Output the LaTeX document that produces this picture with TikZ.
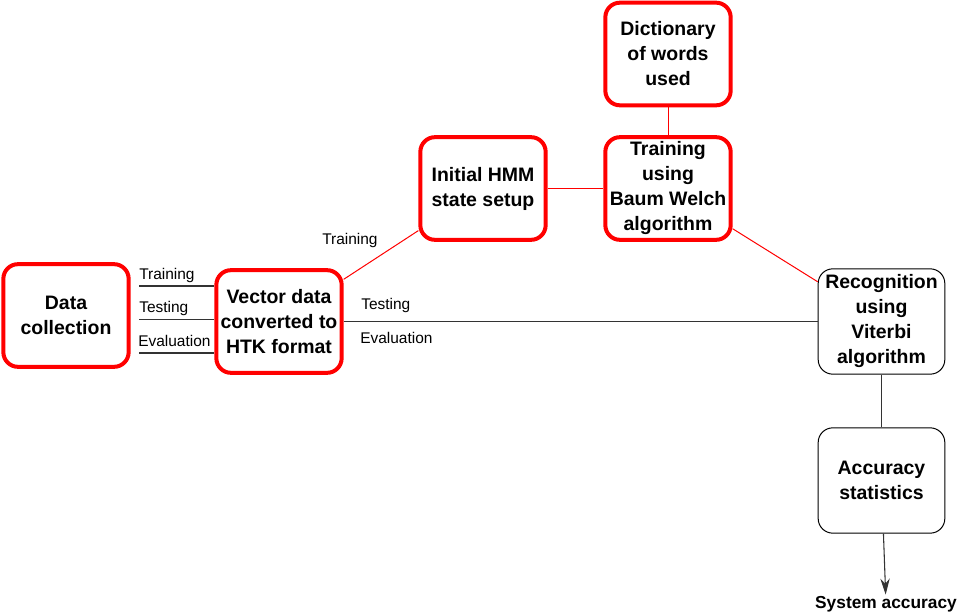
\documentclass[tikz,border=0pt]{standalone}
\usepackage{fontspec}
\setmainfont{Liberation Sans}
\usetikzlibrary{arrows.meta}
\usetikzlibrary{calc}

\tikzset{
  redbox/.style={draw=red, line width=3pt, rounded corners=11pt,
    minimum width=94pt, minimum height=77pt, inner sep=0pt, align=center,
    font=\bfseries\fontsize{14.6}{18.75}\selectfont},
  blackbox/.style={redbox, draw=black, line width=0.75pt,
    minimum width=95pt, minimum height=79pt},
  redline/.style={draw=red, line width=0.75pt},
  blackline/.style={draw=black!80, line width=0.8pt},
  lbl/.style={anchor=base west, inner sep=0pt, font=\fontsize{11.6}{14}\selectfont},
}

\begin{document}
\begin{tikzpicture}[x=0.75pt,y=-0.75pt]
\useasboundingbox (0,0) rectangle (960,613);
% draw boxes
\node[redbox] (data) at (66,315.5) {Data\\collection};
\node[redbox] (vec) at (279,321.5) {Vector data\\converted to\\HTK format};
\node[redbox] (hmm) at (483,188.5) {Initial HMM\\state setup};
\node[redbox] (baum) at (668,188.5) {Training\\using\\Baum Welch\\algorithm};
\node[redbox] (dict) at (668,54) {Dictionary\\of words\\used};
\node[blackbox] (viterbi) at (881.5,321.5) {Recognition\\using\\Viterbi\\algorithm};
\node[blackbox] (acc) at (881.5,480.5) {Accuracy\\statistics};
\node[inner sep=1pt, font=\bfseries\fontsize{13}{15}\selectfont] (sys) at (886,604) {System accuracy};
% draw data sets going into the vector box
\coordinate (intrain) at (139,286);
\coordinate (intest) at (139,319.5);
\coordinate (ineval) at (139,353);
\draw[blackline] (intrain) -- (vec.west |- intrain);
\draw[blackline] (intest) -- (vec.west |- intest);
\draw[blackline] (ineval) -- (vec.west |- ineval);
\node[lbl] (ltrain) at (139,279) {Training};
\node[lbl] (ltest) at (139,312) {Testing};
\node[lbl] (leval) at (138,346) {Evaluation};
% draw training path
\draw[redline] (vec) -- (hmm);
\draw[redline] (hmm) -- (baum);
\draw[redline] (dict) -- (baum);
\draw[redline] (baum) -- (viterbi);
\node[lbl] (ltrain2) at (322,244) {Training};
% draw testing path
\draw[blackline] (vec) -- (viterbi);
\node[lbl] (ltest2) at (361,309) {Testing};
\node[lbl] (leval2) at (360,343) {Evaluation};
% draw output
\draw[blackline] (viterbi) -- (acc);
\draw[blackline, -{Stealth[length=12pt,width=7pt,inset=4pt]}] (acc) -- (sys);
\end{tikzpicture}
\end{document}
